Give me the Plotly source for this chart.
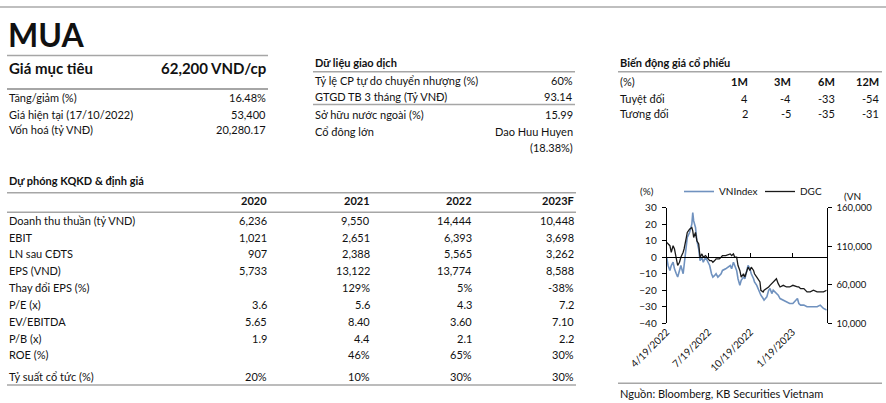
import plotly.graph_objects as go

W, H = 886, 403
FONT = "Lato"
TXT = "#111111"
RULE = "#a6a6a6"

# ---------------- data ----------------
RATING = "MUA"
TARGET_LABEL = "Giá mục tiêu"
TARGET_VALUE = "62,200 VND/cp"
SUMMARY_LABELS = ["Tăng/giảm (%)", "Giá hiện tại (17/10/2022)", "Vốn hoá (tỷ VNĐ)"]
SUMMARY_VALUES = ["16.48%", "53,400", "20,280.17"]

TRADE_TITLE = "Dữ liệu giao dịch"
TRADE_LABELS = ["Tỷ lệ CP tự do chuyển nhượng (%)", "GTGD TB 3 tháng (Tỷ VNĐ)",
                "Sở hữu nước ngoài (%)", "Cổ đông lớn", ""]
TRADE_VALUES = ["60%", "93.14", "15.99", "Dao Huu Huyen", "(18.38%)"]

PERF_TITLE = "Biến động giá cổ phiếu"
PERF_UNIT = "(%)"
PERF_PERIODS = ["1M", "3M", "6M", "12M"]
PERF_ROWS = ["Tuyệt đối", "Tương đối"]
PERF_ABS = [4, -4, -33, -54]
PERF_REL = [2, -5, -35, -31]

FC_TITLE = "Dự phóng KQKD & định giá"
FC_YEARS = ["2020", "2021", "2022", "2023F"]
FC_LABELS = ["Doanh thu thuần (tỷ VND)", "EBIT", "LN sau CĐTS", "EPS (VND)",
             "Thay đổi EPS (%)", "P/E (x)", "EV/EBITDA", "P/B (x)", "ROE (%)",
             "Tỷ suất cổ tức (%)"]
FC_2020 = ["6,236", "1,021", "907", "5,733", "", "3.6", "5.65", "1.9", "", "20%"]
FC_2021 = ["9,550", "2,651", "2,388", "13,122", "129%", "5.6", "8.40", "4.4", "46%", "10%"]
FC_2022 = ["14,444", "6,393", "5,565", "13,774", "5%", "4.3", "3.60", "2.1", "65%", "30%"]
FC_2023F = ["10,448", "3,698", "3,262", "8,588", "-38%", "7.2", "7.10", "2.2", "30%", "30%"]

SOURCE = "Nguồn: Bloomberg, KB Securities Vietnam"

DATES = ["2022-04-19", "2022-04-22", "2022-04-26", "2022-04-29", "2022-05-03", "2022-05-06",
         "2022-05-10", "2022-05-13", "2022-05-17", "2022-05-20", "2022-05-25", "2022-05-27",
         "2022-06-01", "2022-06-03", "2022-06-08", "2022-06-13", "2022-06-15", "2022-06-17",
         "2022-06-21", "2022-06-24", "2022-06-28", "2022-07-01", "2022-07-05", "2022-07-08",
         "2022-07-13", "2022-07-19", "2022-07-22", "2022-07-26", "2022-07-29", "2022-08-02",
         "2022-08-05", "2022-08-09", "2022-08-12", "2022-08-16", "2022-08-19", "2022-08-26",
         "2022-09-05", "2022-09-08", "2022-09-12", "2022-09-15", "2022-09-19", "2022-09-22",
         "2022-09-26", "2022-09-29", "2022-10-04", "2022-10-07", "2022-10-11", "2022-10-14",
         "2022-10-18", "2022-10-21", "2022-10-26", "2022-10-28", "2022-11-02", "2022-11-09",
         "2022-11-11", "2022-11-16", "2022-11-18", "2022-11-24", "2022-11-28", "2022-12-01",
         "2022-12-05", "2022-12-08", "2022-12-12", "2022-12-15", "2022-12-19", "2022-12-23",
         "2022-12-30", "2023-01-06", "2023-01-13", "2023-01-20", "2023-01-30", "2023-02-02",
         "2023-02-06", "2023-02-13", "2023-02-20", "2023-02-27", "2023-03-06", "2023-03-14",
         "2023-03-21", "2023-03-28", "2023-04-04"]
VNINDEX = [0, -5, -8, -5, -3, -7,
           -10, -12, -8, -5, -10, -5,
           5, 12, 15, 20, 27, 22,
           18, 10, 5, -2, 0, -3,
           0, -3, -5, -10, -12, -11,
           -10, -12, -11, -10, -8, -7,
           -5, -7, -3, -5, -8, -13,
           -17, -14, -12, -13, -8, -5,
           -7, -10, -13, -15, -17, -22,
           -23, -25, -26, -24, -20, -19,
           -22, -20, -21, -22, -23, -25,
           -26, -27, -28, -28, -25, -28,
           -29, -29, -30, -30, -30, -30,
           -29, -31, -32]
DGC = [9, 8, 7, 3, 7, 5,
       0, -5, -3, 0, 3, 5,
       12, 15, 17, 18, 16, 12,
       15, 10, 8, 0, 2, 0,
       1, -1, -2, -2, -3, -2,
       -1, -1, -1, 0, 1, 1,
       2, 1, 2, 0, 0, -5,
       -8, -12, -10, -12, -8, -6,
       -8, -6, -8, -10, -12, -15,
       -20, -21, -20, -19, -18, -17,
       -16, -15, -14, -13, -16, -18,
       -17, -18, -18, -17, -18, -18,
       -19, -19, -21, -21, -20, -21,
       -21, -21, -20]

X_TICKS = ["2022-04-19", "2022-07-19", "2022-10-19", "2023-01-19"]
X_TICKTEXT = ["4/19/2022", "7/19/2022", "10/19/2022", "1/19/2023"]
X_RANGE = ["2022-04-19", "2023-04-04"]
Y_LEFT_TICKS = [30, 20, 10, 0, -10, -20, -30, -40]
Y_RIGHT_TICKS = [10000, 60000, 110000, 160000]

# ---------------- figure ----------------
fig = go.Figure()
fig.add_trace(go.Scatter(x=DATES, y=VNINDEX, mode="lines", name="VNIndex",
                         line=dict(color="#7092bf", width=1.6)))
fig.add_trace(go.Scatter(x=DATES, y=DGC, mode="lines", name="DGC",
                         line=dict(color="#1a1a1a", width=1.3)))
# carrier for secondary axes
fig.add_trace(go.Scatter(x=[None], y=[None], xaxis="x2", yaxis="y2", showlegend=False,
                         hoverinfo="skip"))

px = lambda v: v / W
py = lambda v: 1 - v / H

x0, x1 = px(666.7), px(826.7)
ytop, ybot = py(207.7), py(323.3)
zero_pos = ybot + (40 / 70) * (ytop - ybot)

tick_font = dict(family=FONT, size=10, color=TXT)
fig.update_layout(
    width=W, height=H, margin=dict(l=0, r=0, t=0, b=0, pad=0, autoexpand=False),
    paper_bgcolor="white", plot_bgcolor="white",
    font=dict(family=FONT, size=11, color=TXT),
    showlegend=True,
    legend=dict(orientation="h", x=px(679), y=py(191.5), xanchor="left", yanchor="middle",
                font=dict(family=FONT, size=10, color=TXT), bgcolor="rgba(0,0,0,0)",
                entrywidth=36, entrywidthmode="pixels", tracegroupgap=0, itemwidth=30),
    xaxis=dict(domain=[x0, x1], range=X_RANGE, type="date", tickvals=X_TICKS,
               ticktext=X_TICKTEXT, tickangle=-45, tickfont=tick_font, showgrid=False,
               showline=False, ticks="", zeroline=False, anchor="y", automargin=False),
    xaxis2=dict(overlaying="x", anchor="free", position=zero_pos, range=X_RANGE, type="date",
                tickvals=X_TICKS, ticks="inside", ticklen=4, tickcolor="#000",
                showticklabels=False, showgrid=False, showline=True, linecolor="#000",
                linewidth=1.2, zeroline=False, automargin=False),
    yaxis=dict(domain=[ybot, ytop], range=[-40, 30], tickvals=Y_LEFT_TICKS, tickfont=tick_font,
               showline=True, linecolor="#000", linewidth=1, ticks="outside", ticklen=4,
               tickcolor="#000", showgrid=False, zeroline=False, ticklabelstandoff=3,
               anchor="x", automargin=False),
    yaxis2=dict(overlaying="y", side="right", anchor="x", range=[10000, 160000],
                tickvals=Y_RIGHT_TICKS, tickformat=",d",
                tickfont=dict(family=FONT, size=9.5, color=TXT), showline=True,
                linecolor="#000", linewidth=1, ticks="outside", ticklen=4, tickcolor="#000",
                showgrid=False, zeroline=False, ticklabelstandoff=3, automargin=False),
)

ann = []
shapes = []


def text(x, y, s, anchor="left", size=11, bold=False):
    if bold:
        s = "<b>" + s + "</b>"
    ann.append(dict(x=px(x), y=py(y), xref="paper", yref="paper", text=s, showarrow=False,
                    xanchor=anchor, yanchor="middle", font=dict(family=FONT, size=size, color=TXT)))


def rule(xa, xb, y, width=1.4, color=RULE):
    shapes.append(dict(type="line", xref="paper", yref="paper", x0=px(xa), x1=px(xb),
                       y0=py(y), y1=py(y), line=dict(color=color, width=width)))


# top rule
rule(0, 886, 7, width=1.2, color="#808080")

# header block
text(6, 34, RATING, size=32, bold=True)
rule(7, 268, 55.5)
text(7, 68, TARGET_LABEL, size=15, bold=True)
text(268, 68, TARGET_VALUE, anchor="right", size=15, bold=True)
rule(7, 268, 89, width=2)
for i, (l, v) in enumerate(zip(SUMMARY_LABELS, SUMMARY_VALUES)):
    yy = [97.5, 114.5, 130][i]
    text(7, yy, l)
    text(268, yy, v, anchor="right")

# trade block
text(313, 62.5, TRADE_TITLE, bold=True)
rule(313, 575, 71.7)
for i, (l, v) in enumerate(zip(TRADE_LABELS, TRADE_VALUES)):
    yy = [80.7, 96, 114, 131, 147.7][i]
    if l:
        text(313, yy, l)
    text(575, yy, v, anchor="right")
rule(313, 575, 104.5)

# performance block
text(618, 62.5, PERF_TITLE, bold=True)
rule(618, 882, 71.7)
perf_x = [750, 793, 837, 881]
text(618, 81.7, PERF_UNIT)
for xx, p in zip(perf_x, PERF_PERIODS):
    text(xx, 81.7, p, anchor="right", bold=True)
for row, vals, yy in zip(PERF_ROWS, [PERF_ABS, PERF_REL], [98.3, 113.3]):
    text(618, yy, row)
    for xx, v in zip(perf_x, vals):
        text(xx, yy, str(v), anchor="right")

# forecast block
text(7, 180, FC_TITLE, bold=True)
rule(7, 576, 192.7)
col_x = [269, 371.7, 474, 576]
for xx, yr in zip(col_x, FC_YEARS):
    text(xx, 201, yr, anchor="right", bold=True)
rule(7, 576, 212.3)
row_y = [220.7, 237.3, 254, 270, 287, 304, 321.3, 338, 354.7, 376]
for i, lab in enumerate(FC_LABELS):
    text(7, row_y[i], lab)
    for xx, col in zip(col_x, [FC_2020, FC_2021, FC_2022, FC_2023F]):
        if col[i]:
            text(xx, row_y[i], col[i], anchor="right")
rule(7, 576, 385)

# chart extras
text(647, 190.7, "(%)", anchor="center", size=10)
text(842, 196, "(VN", size=10)

# source
rule(618, 882, 383.3)
text(618, 393.5, SOURCE)

fig.update_layout(annotations=ann, shapes=shapes)
fig.write_html("out.html", config={"displayModeBar": False},
               post_script="document.body.style.margin='0px';document.body.style.overflow='hidden';")
